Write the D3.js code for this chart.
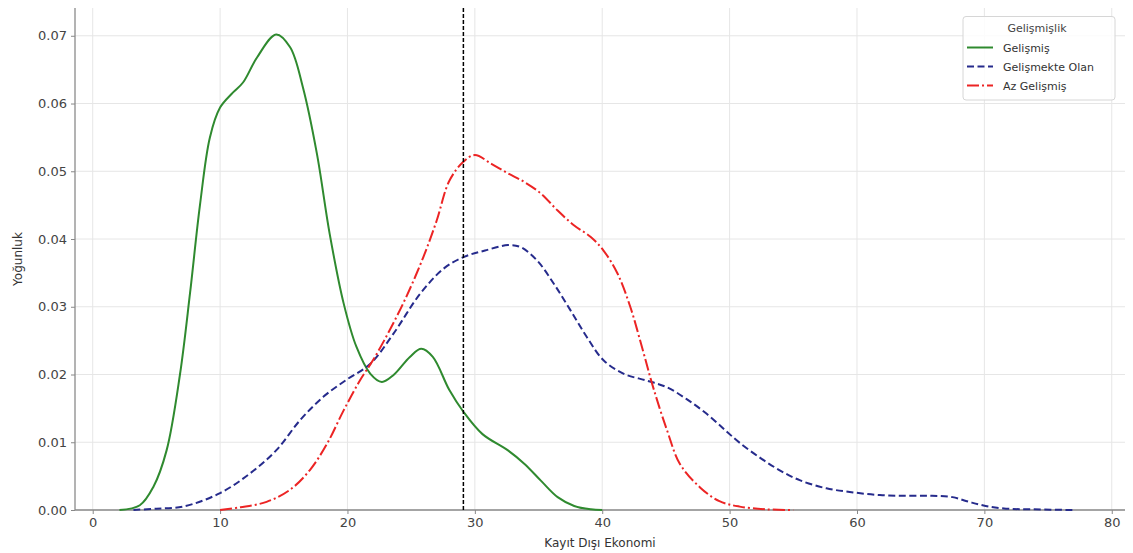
<!DOCTYPE html>
<html><head><meta charset="utf-8">
<script src="https://cdn.jsdelivr.net/npm/d3@7"></script>
<style>body{margin:0;background:#fff;} svg{display:block;font-family:"DejaVu Sans",sans-serif;}</style>
</head><body><svg id="c" width="1133" height="553"></svg>
<script>
const xTicks = [0,10,20,30,40,50,60,70,80];
const yTicks = [0,0.01,0.02,0.03,0.04,0.05,0.06,0.07];
const seriesNames = ["Gelişmiş","Gelişmekte Olan","Az Gelişmiş"];
const legendTitle = "Gelişmişlik";
const xLabel = "Kayıt Dışı Ekonomi";
const yLabel = "Yoğunluk";
const refLine = 29.1;

const gelismisX = [2.1,3.7,4.76,5.8,6.85,7.64,8.42,9.2,10.0,11.0,11.8,12.9,14.4,15.5,16.5,17.6,18.6,19.7,20.7,21.8,22.7,23.6,24.9,25.8,26.7,28.0,29.1,30.6,32.6,33.9,35.2,36.5,37.8,39.1,40.0];
const gelismisY = [0,0.0007,0.0034,0.0088,0.020,0.032,0.045,0.055,0.0594,0.0616,0.0631,0.0668,0.0702,0.0683,0.0624,0.0526,0.0408,0.0305,0.0241,0.0201,0.0189,0.0199,0.0226,0.0238,0.0226,0.0177,0.0145,0.0112,0.0088,0.0068,0.0043,0.0019,0.0006,0.0001,0];

const gelismekteX = [3.2,5,7.1,10,12.35,14.4,16.3,18.1,19.9,21.8,23.6,25.7,27.6,29.2,30.8,32.6,33.6,34.9,36.2,37.5,38.8,40.1,41.7,43.5,45.1,46.6,48.2,49.7,50.8,52.4,53.9,55.5,57.6,59.7,61.8,63.9,65.9,67.5,68.8,70.1,71.7,73.8,77];
const gelismekteY = [0,0.0002,0.0005,0.0025,0.0054,0.0088,0.0133,0.0167,0.0192,0.0216,0.026,0.0319,0.0357,0.0374,0.0383,0.0391,0.0388,0.0368,0.0334,0.0295,0.0255,0.0221,0.0201,0.0191,0.0181,0.0164,0.0142,0.0117,0.0099,0.0077,0.0059,0.0044,0.0032,0.0026,0.0022,0.0021,0.0021,0.0019,0.0012,0.0006,0.0002,0.0001,0];

const azX = [10,11.6,13.65,15.5,17.05,18.4,19.7,21.0,22.0,23.3,24.6,25.95,27.0,28.0,29.1,30.0,31.3,32.6,33.9,35.2,36.5,37.8,39.1,40.1,41.2,42.2,43.2,44.0,45.1,46.1,47.7,49.2,50.8,52.9,55];
const azY = [0,0.0004,0.0012,0.003,0.0059,0.0098,0.0147,0.0192,0.0221,0.0265,0.0314,0.0373,0.0427,0.0486,0.0514,0.0524,0.0511,0.0497,0.0484,0.0467,0.0442,0.042,0.0403,0.0383,0.0349,0.030,0.0235,0.0181,0.0117,0.0068,0.0033,0.0013,0.0005,0.0001,0];

const series = [
  {name:seriesNames[0], xs:gelismisX, ys:gelismisY, color:"#2f8a2f", dash:null},
  {name:seriesNames[1], xs:gelismekteX, ys:gelismekteY, color:"#262b8c", dash:"7,3.5"},
  {name:seriesNames[2], xs:azX, ys:azY, color:"#ec2424", dash:"12,3,2,3"}
];

const L=75, R=1125, T=8, B=510;
const svg = d3.select("#c");
const x = d3.scaleLinear().domain([-1.39,81.04]).range([L,R]);
const y = d3.scaleLinear().domain([0,0.0741]).range([B,T]);

// grid
svg.append("g").selectAll("line").data(xTicks).join("line")
  .attr("x1",d=>x(d)).attr("x2",d=>x(d)).attr("y1",T).attr("y2",B)
  .attr("stroke","#e6e6e6").attr("stroke-width",1);
svg.append("g").selectAll("line").data(yTicks).join("line")
  .attr("x1",L).attr("x2",R).attr("y1",d=>y(d)).attr("y2",d=>y(d))
  .attr("stroke","#e6e6e6").attr("stroke-width",1);

// axes
const xAxis = svg.append("g").attr("transform",`translate(0,${B})`)
  .call(d3.axisBottom(x).tickValues(xTicks).tickSize(4).tickPadding(4).tickFormat(d3.format("d")));
const yAxis = svg.append("g").attr("transform",`translate(${L},0)`)
  .call(d3.axisLeft(y).tickValues(yTicks).tickSize(4).tickPadding(4).tickFormat(d3.format(".2f")));
[xAxis,yAxis].forEach(a=>{
  a.select(".domain").remove();
  a.selectAll(".tick line").attr("stroke","#888");
  a.selectAll(".tick text").attr("fill","#444").style("font-size","13px").style("font-family","DejaVu Sans");
});
svg.append("line").attr("x1",L).attr("x2",R).attr("y1",B).attr("y2",B).attr("stroke","#8a8a8a").attr("stroke-width",1.3);
svg.append("line").attr("x1",L).attr("x2",L).attr("y1",T).attr("y2",B).attr("stroke","#8a8a8a").attr("stroke-width",1.3);

// curves
const line = d3.line().x(d=>x(d[0])).y(d=>Math.min(B, y(d[1]))).curve(d3.curveCatmullRom.alpha(0.5));
series.forEach(s=>{
  const pts = s.xs.map((v,i)=>[v,s.ys[i]]);
  svg.append("path").datum(pts).attr("d",line).attr("fill","none")
    .attr("stroke",s.color).attr("stroke-width",2)
    .attr("stroke-dasharray",s.dash);
});

// reference line
svg.append("line").attr("x1",x(refLine)).attr("x2",x(refLine)).attr("y1",T).attr("y2",B)
  .attr("stroke","#000").attr("stroke-width",1.5).attr("stroke-dasharray","4,2");

// labels
svg.append("text").attr("x",(L+R)/2).attr("y",547).attr("text-anchor","middle")
  .attr("fill","#333").style("font-size","12px").text(xLabel);
svg.append("text").attr("transform",`translate(22,${(T+B)/2}) rotate(-90)`).attr("text-anchor","middle")
  .attr("fill","#333").style("font-size","12px").text(yLabel);

// legend
const lg = svg.append("g");
lg.append("rect").attr("x",963).attr("y",16.5).attr("width",152).attr("height",83.5).attr("rx",3)
  .attr("fill","#fff").attr("fill-opacity",0.85).attr("stroke","#d6d6d6");
lg.append("text").attr("x",1037).attr("y",32).attr("text-anchor","middle").attr("fill","#444")
  .style("font-size","11px").text(legendTitle);
series.forEach((s,i)=>{
  const yy = 47.5 + i*19;
  lg.append("line").attr("x1",967).attr("x2",993).attr("y1",yy).attr("y2",yy)
    .attr("stroke",s.color).attr("stroke-width",2).attr("stroke-dasharray",s.dash);
  lg.append("text").attr("x",1003).attr("y",yy+4).attr("fill","#333").style("font-size","11px").text(s.name);
});
</script></body></html>
